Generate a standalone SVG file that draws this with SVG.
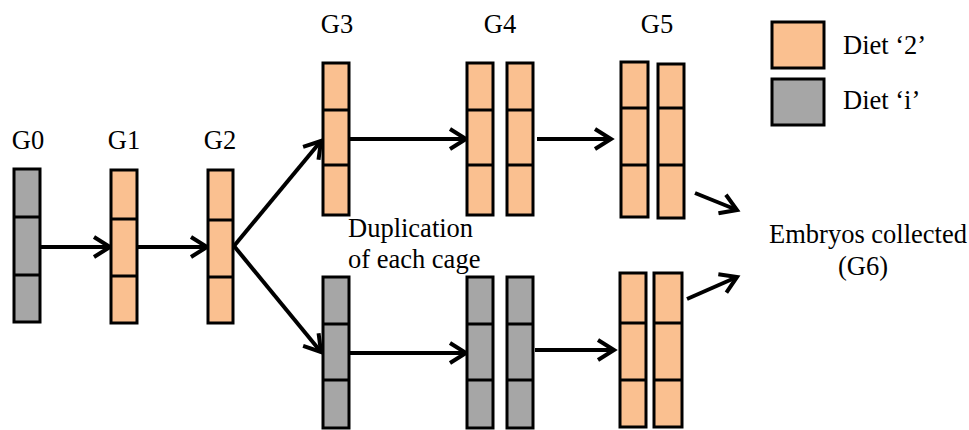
<svg xmlns="http://www.w3.org/2000/svg" width="969" height="430" viewBox="0 0 969 430">
<defs>
<style>
.o{fill:#FAC090;stroke:#000;stroke-width:3}
.g{fill:#A6A6A6;stroke:#000;stroke-width:3}
.d{stroke:#000;stroke-width:3}
text{font-family:"Liberation Serif","Times New Roman",serif;font-size:26.5px;fill:#000}
.a{stroke:#000;stroke-width:4;fill:none;marker-end:url(#ah)}
</style>
<marker id="ah" markerUnits="userSpaceOnUse" markerWidth="24" markerHeight="24" viewBox="0 0 24 24" refX="19" refY="12" orient="auto">
<path d="M3,2 L19,12 L3,22" fill="none" stroke="#000" stroke-width="4"/>
</marker>
</defs>
<rect width="969" height="430" fill="#fff"/>
<g id="labels">
<text x="28" y="149" text-anchor="middle">G0</text>
<text x="124" y="149" text-anchor="middle">G1</text>
<text x="220" y="149" text-anchor="middle">G2</text>
<text x="337" y="33" text-anchor="middle">G3</text>
<text x="500" y="33" text-anchor="middle">G4</text>
<text x="657" y="33" text-anchor="middle">G5</text>
</g>
<g id="connectors">
<line class="a" x1="40" y1="247" x2="110" y2="247"/>
<line class="a" x1="137" y1="247" x2="207" y2="247"/>
<line class="a" x1="234" y1="246" x2="321" y2="141"/>
<line class="a" x1="234" y1="246" x2="321" y2="352"/>
<line class="a" x1="349" y1="139" x2="466" y2="139"/>
<line class="a" x1="349" y1="353" x2="466" y2="353"/>
<line class="a" x1="537" y1="139" x2="611" y2="139"/>
<line class="a" x1="535" y1="350" x2="614" y2="350"/>
<line class="a" x1="695" y1="193" x2="737" y2="210"/>
<line class="a" x1="687" y1="299" x2="737" y2="277"/>
</g>
<g id="G0">
<rect class="g" x="14" y="169" width="26" height="153"/>
<line class="d" x1="14" y1="217" x2="40" y2="217"/><line class="d" x1="14" y1="275" x2="40" y2="275"/>
</g>
<g id="G1">
<rect class="o" x="111" y="170" width="26" height="153"/>
<line class="d" x1="111" y1="219" x2="137" y2="219"/><line class="d" x1="111" y1="276" x2="137" y2="276"/>
</g>
<g id="G2">
<rect class="o" x="208" y="170" width="25" height="153"/>
<line class="d" x1="208" y1="220" x2="233" y2="220"/><line class="d" x1="208" y1="277" x2="233" y2="277"/>
</g>
<g id="G3-top">
<rect class="o" x="323" y="63" width="26" height="152"/>
<line class="d" x1="323" y1="110" x2="349" y2="110"/><line class="d" x1="323" y1="165" x2="349" y2="165"/>
</g>
<g id="G4-top-1">
<rect class="o" x="467" y="63" width="26" height="152"/>
<line class="d" x1="467" y1="110" x2="493" y2="110"/><line class="d" x1="467" y1="165" x2="493" y2="165"/>
</g>
<g id="G4-top-2">
<rect class="o" x="507" y="63" width="26" height="152"/>
<line class="d" x1="507" y1="110" x2="533" y2="110"/><line class="d" x1="507" y1="165" x2="533" y2="165"/>
</g>
<g id="G5-top-1">
<rect class="o" x="621" y="62" width="27" height="155"/>
<line class="d" x1="621" y1="108" x2="648" y2="108"/><line class="d" x1="621" y1="165" x2="648" y2="165"/>
</g>
<g id="G5-top-2">
<rect class="o" x="658" y="64" width="26" height="154"/>
<line class="d" x1="658" y1="108" x2="684" y2="108"/><line class="d" x1="658" y1="165" x2="684" y2="165"/>
</g>
<g id="G3-bottom">
<rect class="g" x="323" y="277" width="26" height="151"/>
<line class="d" x1="323" y1="324" x2="349" y2="324"/><line class="d" x1="323" y1="380" x2="349" y2="380"/>
</g>
<g id="G4-bottom-1">
<rect class="g" x="467" y="277" width="26" height="151"/>
<line class="d" x1="467" y1="324" x2="493" y2="324"/><line class="d" x1="467" y1="380" x2="493" y2="380"/>
</g>
<g id="G4-bottom-2">
<rect class="g" x="507" y="277" width="26" height="151"/>
<line class="d" x1="507" y1="324" x2="533" y2="324"/><line class="d" x1="507" y1="380" x2="533" y2="380"/>
</g>
<g id="G5-bottom-1">
<rect class="o" x="620" y="273" width="26" height="154"/>
<line class="d" x1="620" y1="323" x2="646" y2="323"/><line class="d" x1="620" y1="380" x2="646" y2="380"/>
</g>
<g id="G5-bottom-2">
<rect class="o" x="654" y="273" width="28" height="154"/>
<line class="d" x1="654" y1="323" x2="682" y2="323"/><line class="d" x1="654" y1="380" x2="682" y2="380"/>
</g>
<g id="duplication-label">
<text x="348" y="237">Duplication</text>
<text x="348" y="268">of each cage</text>
</g>
<g id="embryos">
<text x="868" y="243" text-anchor="middle">Embryos collected</text>
<text x="863" y="275" text-anchor="middle">(G6)</text>
</g>
<g id="legend">
<rect class="o" x="772" y="22" width="52" height="46"/>
<rect class="g" x="772" y="79" width="52" height="46"/>
<text x="843" y="54">Diet ‘2’</text>
<text x="843" y="109">Diet ‘i’</text>
</g>
</svg>
